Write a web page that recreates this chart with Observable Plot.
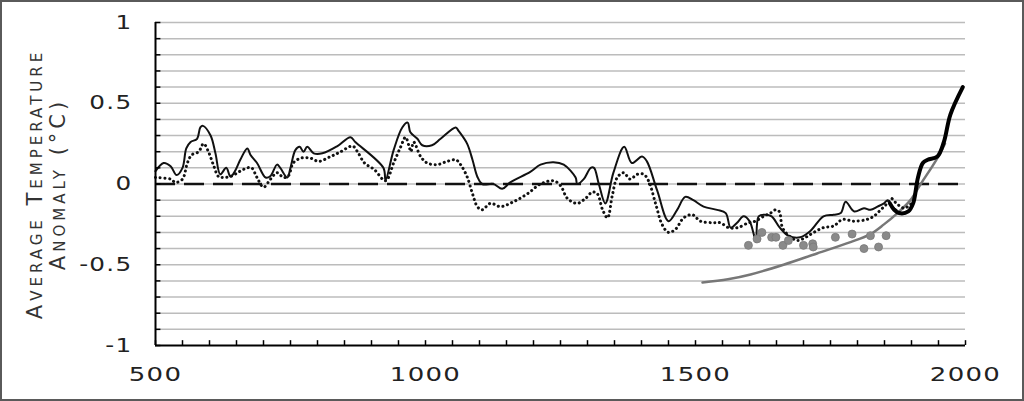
<!DOCTYPE html>
<html>
<head>
<meta charset="utf-8">
<script src="https://cdn.jsdelivr.net/npm/d3@7"></script>
<script src="https://cdn.jsdelivr.net/npm/@observablehq/plot@0.6"></script>
<style>
  html, body { margin: 0; padding: 0; background: #fff; }
  #wrap { position: relative; width: 1024px; height: 401px; overflow: hidden; }
  #border { position: absolute; left: 0; top: 0; width: 1024px; height: 401px; box-sizing: border-box; border: 2px solid #5a5a5a; pointer-events: none; }
  #chart svg { display: block; }
</style>
</head>
<body>
<div id="wrap"><div id="chart"></div><div id="border"></div></div>
<script>
// ---- data ----
const solidYears = [500,515,528,539,550,557,565,577,583,588,602,611,620,631,639,648,657,670,676,688,704,713,725,731,744,750,759,767,774,781,793,809,837,861,870,922,926,941,957,967,972,985,994,1012,1028,1056,1061,1077,1087,1096,1105,1126,1142,1157,1194,1213,1237,1256,1278,1281,1293,1306,1312,1321,1333,1348,1368,1382,1401,1410,1429,1450,1466,1481,1496,1515,1540,1556,1565,1577,1589,1600,1607,1612,1617,1629,1641,1656,1672,1694,1713,1737,1756,1769,1778,1794,1812,1824,1837,1849,1856,1864,1872];
const solidValues = [0.08,0.13,0.11,0.055,0.1,0.22,0.26,0.28,0.35,0.36,0.3,0.19,0.06,0.1,0.045,0.085,0.15,0.22,0.18,0.13,0.04,0.05,0.12,0.1,0.04,0.1,0.21,0.23,0.2,0.23,0.19,0.19,0.235,0.29,0.26,0.1,0.025,0.21,0.35,0.38,0.32,0.28,0.24,0.24,0.28,0.35,0.33,0.25,0.15,0.045,0.0,0.0,-0.03,0.01,0.075,0.12,0.135,0.12,0.04,0.0,0.03,0.1,0.1,0.0,-0.12,0.07,0.23,0.13,0.17,0.14,-0.04,-0.23,-0.16,-0.08,-0.1,-0.14,-0.16,-0.18,-0.27,-0.24,-0.2,-0.23,-0.3,-0.36,-0.2,-0.19,-0.2,-0.27,-0.32,-0.33,-0.29,-0.2,-0.19,-0.18,-0.11,-0.17,-0.15,-0.16,-0.14,-0.12,-0.1,-0.14,-0.16];

const dottedYears = [500,528,537,550,559,567,580,589,598,607,617,626,641,657,670,678,688,700,713,725,737,746,755,769,787,802,824,843,865,874,887,905,926,941,954,963,969,973,978,991,1003,1022,1040,1056,1065,1077,1087,1096,1105,1120,1139,1163,1189,1213,1237,1250,1263,1281,1296,1309,1318,1328,1337,1346,1355,1367,1379,1392,1404,1413,1426,1438,1450,1463,1478,1494,1509,1533,1546,1561,1578,1598,1611,1626,1639,1648,1655,1661,1673,1689,1704,1719,1737,1756,1772,1793,1817,1830,1843,1855,1863,1872,1887,1900];
const dottedValues = [0.04,0.03,0.01,0.03,0.13,0.18,0.2,0.25,0.2,0.12,0.045,0.04,0.05,0.08,0.1,0.1,0.04,-0.02,0.03,0.07,0.04,0.05,0.13,0.16,0.16,0.14,0.17,0.2,0.235,0.2,0.13,0.09,0.02,0.13,0.23,0.29,0.24,0.2,0.26,0.17,0.13,0.12,0.14,0.15,0.12,0.045,-0.06,-0.14,-0.16,-0.12,-0.14,-0.11,-0.06,0.0,0.02,-0.01,-0.09,-0.12,-0.09,-0.05,-0.06,-0.16,-0.21,-0.07,0.04,0.07,0.03,0.06,0.06,0.02,-0.12,-0.25,-0.3,-0.28,-0.21,-0.19,-0.23,-0.24,-0.24,-0.27,-0.27,-0.24,-0.23,-0.2,-0.18,-0.16,-0.17,-0.27,-0.32,-0.35,-0.33,-0.3,-0.27,-0.26,-0.22,-0.23,-0.22,-0.2,-0.16,-0.12,-0.09,-0.12,-0.15,-0.12];

const instYears = [1860,1868,1877,1894,1903,1912,1921,1930,1948,1960,1972,1995];
const instValues = [-0.12,-0.16,-0.18,-0.17,-0.12,0.04,0.13,0.15,0.17,0.26,0.43,0.6];

const grayYears = [1513,1560,1602,1663,1725,1787,1824,1849,1874,1898,1917,1946,1962];
const grayValues = [-0.61,-0.59,-0.56,-0.5,-0.43,-0.36,-0.31,-0.25,-0.18,-0.1,0.0,0.15,0.25];

const dotYears = [1598,1614,1623,1641,1649,1662,1672,1700,1717,1718,1759,1790,1812,1824,1839,1853];
const dotValues = [-0.38,-0.34,-0.3,-0.33,-0.33,-0.38,-0.35,-0.38,-0.37,-0.39,-0.33,-0.31,-0.4,-0.32,-0.39,-0.32];

const xTickLabels = [500, 1000, 1500, 2000];
const yTickLabels = [-1, -0.5, 0, 0.5, 1];
const xMinorTicks = d3.range(500, 2001, 50);
const yMinorTicks = d3.range(-10, 11).map(i => i / 10);
const gridValues = d3.range(-9, 11).map(i => i / 10);
const yTitle = "Average Temperature\nAnomaly (°C)";

const toRows = (xs, ys) => xs.map((x, i) => ({year: x, value: ys[i]}));
const solid = toRows(solidYears, solidValues);
const dotted = toRows(dottedYears, dottedValues);
const inst = toRows(instYears, instValues);
const gray = toRows(grayYears, grayValues);
const dots = toRows(dotYears, dotValues);

const font = "'DejaVu Sans', sans-serif";

const chart = Plot.plot({
  width: 1024,
  height: 401,
  marginLeft: 155,
  marginRight: 59,
  marginTop: 22,
  marginBottom: 56,
  style: {fontFamily: font, background: "transparent"},
  x: {domain: [500, 2000]},
  y: {domain: [-1, 1]},
  marks: [
    Plot.ruleY(gridValues, {stroke: "#bcbcbc", strokeWidth: 1.5}),
    Plot.ruleY([0], {stroke: "#111", strokeWidth: 2.5, strokeDasharray: "20 9"}),
    Plot.line(gray, {x: "year", y: "value", stroke: "#777", strokeWidth: 2.5, curve: "catmull-rom"}),
    Plot.line(dotted, {x: "year", y: "value", stroke: "#111", strokeWidth: 3, strokeDasharray: "0.1 4.6", strokeLinecap: "round", curve: "catmull-rom"}),
    Plot.line(solid, {x: "year", y: "value", stroke: "#111", strokeWidth: 2, curve: "catmull-rom"}),
    Plot.dot(dots, {x: "year", y: "value", r: 4, fill: "#8a8a8a", stroke: "#7a7a7a", strokeWidth: 0.8}),
    Plot.line(inst, {x: "year", y: "value", stroke: "#000", strokeWidth: 4, curve: "catmull-rom"}),
    // axis lines and inward ticks
    Plot.ruleX([500], {stroke: "#000", strokeWidth: 2}),
    Plot.ruleY([-1], {stroke: "#000", strokeWidth: 2}),
    Plot.ruleY(yMinorTicks, {x1: 500, x2: 510, stroke: "#000", strokeWidth: 1.5}),
    Plot.ruleX(xMinorTicks, {y1: -1, y2: -0.97, stroke: "#000", strokeWidth: 1.5}),
    Plot.axisX({ticks: xTickLabels, tickSize: 0, tickPadding: 21, fontSize: 20, tickFormat: d => String(d), label: null}),
    Plot.axisY({ticks: yTickLabels, tickSize: 0, tickPadding: 23, fontSize: 19, tickFormat: d => String(d), label: null}),
    Plot.text([yTitle], {frameAnchor: "left", dx: -109, rotate: -90, fontSize: 21, lineHeight: 1.1, fill: "#333", textAnchor: "middle", fontVariant: "small-caps"})
  ]
});

document.getElementById("chart").appendChild(chart);

// typographic tweaks: the reference uses a wide, extended face
function widen(sel, sx) {
  sel.each(function() {
    const el = d3.select(this);
    let tr = el.attr("transform");
    if (!tr) {
      const x = +el.attr("x") || 0, y = +el.attr("y") || 0;
      el.attr("x", null).attr("y", null);
      tr = `translate(${x},${y})`;
    }
    el.attr("transform", `${tr} scale(${sx},1)`).attr("fill", "#222");
  });
}
d3.select(chart).selectAll("text").each(function() {
  const t = this.textContent;
  if (t.includes("Average") || t.includes("Anomaly")) {
    d3.select(this).style("letter-spacing", "4px").style("font-variant", "small-caps");
  }
});
widen(d3.select(chart).selectAll("g[aria-label='x-axis tick label'] text"), 1.3);
widen(d3.select(chart).selectAll("g[aria-label='y-axis tick label'] text"), 1.3);
d3.select(chart).selectAll("g[aria-label='x-axis tick label'] text, g[aria-label='y-axis tick label'] text").style("letter-spacing", "1px");
</script>
</body>
</html>
